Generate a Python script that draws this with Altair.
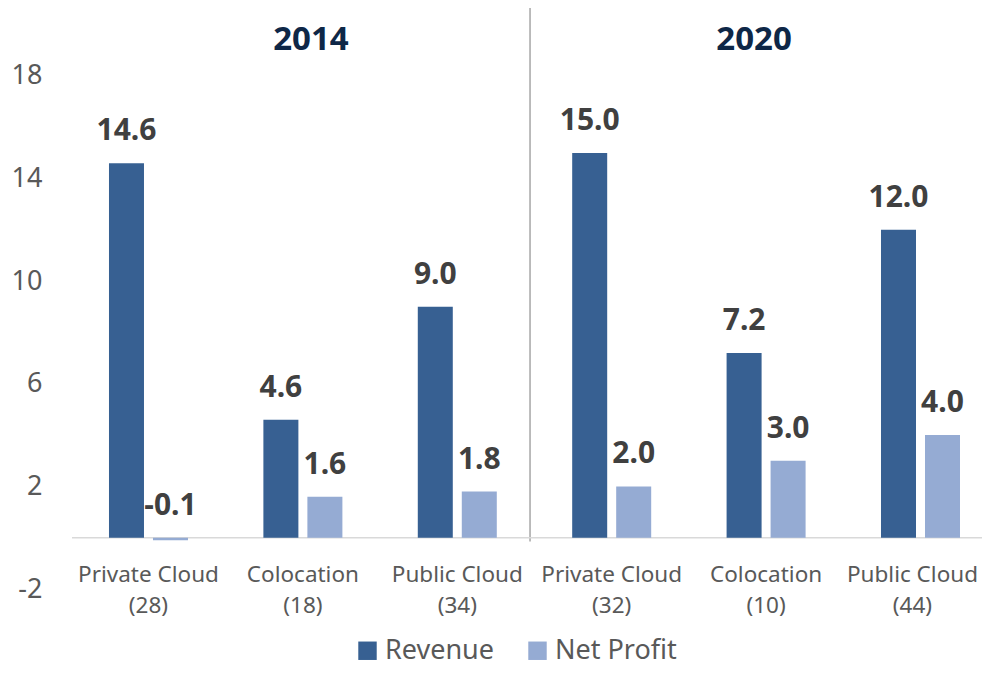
import altair as alt
import pandas as pd

categories = ["Private Cloud", "Colocation", "Public Cloud"]
years = ["2014", "2020"]
counts = {"2014": [28, 18, 34], "2020": [32, 10, 44]}
revenue = {"2014": [14.6, 4.6, 9.0], "2020": [15.0, 7.2, 12.0]}
net_profit = {"2014": [-0.1, 1.6, 1.8], "2020": [2.0, 3.0, 4.0]}
series = ["Revenue", "Net Profit"]
colors = ["#376092", "#95ABD3"]
y_ticks = [-2, 2, 6, 10, 14, 18]

rows = []
cats = []
for yr in years:
    for i, c in enumerate(categories):
        key = f"{yr}|{c}"
        cats.append({"key": key, "label": f"{c}\n({counts[yr][i]})", "year": yr})
        for s, v in (("Revenue", revenue[yr][i]), ("Net Profit", net_profit[yr][i])):
            rows.append({"key": key, "series": s, "value": v, "txt": f"{v:.1f}"})
df = pd.DataFrame(rows)
df["label_y"] = df["value"].clip(lower=0)
cat_df = pd.DataFrame(cats)
order = [c["key"] for c in cats]
last_key = order[-1]

W, H = 910, 579
FONT = "Noto Sans"

xscale = alt.Scale(domain=order, paddingInner=0.4883, paddingOuter=0.191, align=0.627)
yscale = alt.Scale(domain=[-2, 20.57], nice=False, zero=False)
offscale = alt.Scale(domain=series, paddingInner=0.2045, paddingOuter=0)

x = alt.X("key:N", scale=xscale, axis=None, sort=order)

bars = alt.Chart(df).mark_bar().encode(
    x=x,
    xOffset=alt.XOffset("series:N", sort=series, scale=offscale),
    y=alt.Y("value:Q", scale=yscale,
            axis=alt.Axis(values=y_ticks, domain=False, ticks=False, grid=False,
                          labelPadding=30, labelFontSize=27, labelColor="#595959",
                          labelFont=FONT,
                          labelExpr="datum.value < 0 ? '-' + abs(datum.value) : datum.label"),
            title=None),
    y2=alt.datum(0),
    color=alt.Color("series:N", scale=alt.Scale(domain=series, range=colors),
                    legend=alt.Legend(orient="none", legendX=282, legendY=627,
                                      direction="horizontal", title=None,
                                      symbolType="square", symbolSize=340,
                                      symbolStrokeWidth=0, labelFontSize=27,
                                      labelColor="#595959", labelFont=FONT,
                                      columnPadding=29, labelOffset=4)),
)

labels = alt.Chart(df).mark_text(
    font=FONT, fontSize=30, fontWeight="bold", color="#404040",
    baseline="alphabetic", dy=-23,
).encode(
    x=x,
    xOffset=alt.XOffset("series:N", sort=series, scale=offscale),
    y=alt.Y("label_y:Q", scale=yscale),
    text="txt:N",
)

baseline = alt.Chart(cat_df).mark_rule(color="#d9d9d9", strokeWidth=1.5).transform_filter(
    "datum.key == '2014|Private Cloud'"
).transform_calculate(z="0").encode(
    x=alt.value(0), x2=alt.value(W), y=alt.Y("z:Q", scale=yscale)
)

def cat_layer(filter_expr, dx):
    return alt.Chart(cat_df).mark_text(
        font=FONT, fontSize=22.5, color="#595959", baseline="alphabetic",
        lineBreak="\n", lineHeight=31, dy=44, dx=dx,
    ).transform_filter(filter_expr).transform_calculate(z="0").encode(
        x=x,
        y=alt.Y("z:Q", scale=yscale),
        text="label:N",
    )

cat_text = cat_layer(f"datum.key != '{last_key}'", 0)
cat_text_last = cat_layer(f"datum.key == '{last_key}'", -8)

title14 = alt.Chart(cat_df).mark_text(
    font=FONT, fontSize=33, fontWeight="bold", color="#0E2747", baseline="middle", dx=8,
).transform_filter("datum.key == '2014|Colocation'").transform_calculate(ty="19.4").encode(
    x=x, y=alt.Y("ty:Q", scale=yscale), text="year:N",
)

title20 = alt.Chart(cat_df).mark_text(
    font=FONT, fontSize=33, fontWeight="bold", color="#0E2747", baseline="middle", dx=-12,
).transform_filter("datum.key == '2020|Colocation'").transform_calculate(ty="19.4").encode(
    x=x, y=alt.Y("ty:Q", scale=yscale), text="year:N",
)

main = alt.layer(baseline, bars, labels, cat_text, cat_text_last, title14, title20)

# separator between the two year groups on a 0-6 slot scale
sep = alt.Chart(cat_df).mark_rule(color="#a6a6a6", strokeWidth=1.5).transform_filter(
    "datum.key == '2014|Public Cloud'"
).transform_calculate(sx="3.02", lo="-0.15").encode(
    x=alt.X("sx:Q", scale=alt.Scale(domain=[0, 6], nice=False, zero=False), axis=None),
    y=alt.Y("lo:Q", scale=yscale),
    y2=alt.value(-3),
)

chart = alt.layer(sep, main).resolve_scale(x="independent").properties(
    width=W, height=H,
    autosize=alt.AutoSizeParams(type="none"),
    padding={"left": 64, "top": 2, "right": 0, "bottom": 78},
).configure(font=FONT).configure_view(stroke=None)

chart.save("out.html", embed_options={"renderer": "svg", "actions": False})
